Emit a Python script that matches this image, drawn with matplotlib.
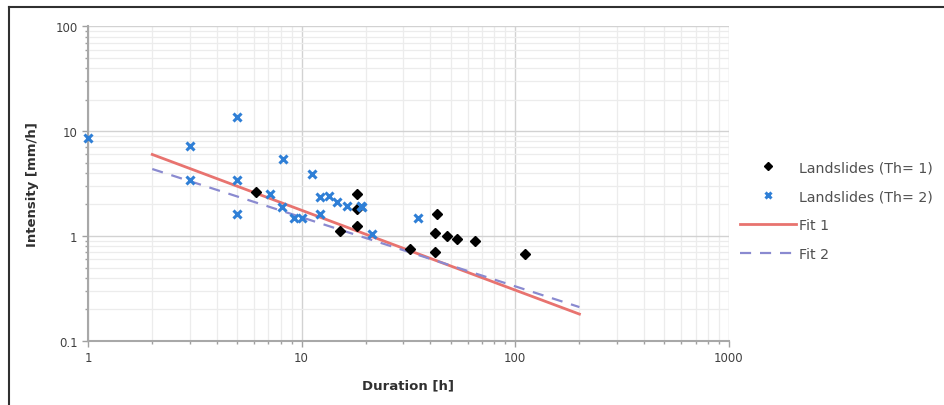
import matplotlib
matplotlib.use("Agg")
import matplotlib.pyplot as plt
from matplotlib.lines import Line2D
from matplotlib.ticker import LogLocator, FixedLocator, NullFormatter

# Landslides, threshold 1 (black diamonds)
th1_dur = [6.1, 15.1, 18.1, 18.1, 18.1, 43, 42.2, 47.9, 53.3, 65, 111, 32.2, 42]
th1_int = [2.65, 1.12, 2.52, 1.81, 1.25, 1.62, 1.08, 1.0, 0.94, 0.90, 0.67, 0.75, 0.71]

# Landslides, threshold 2 (blue crosses)
th2_dur = [1, 3, 5, 3, 5, 5, 8.2, 7.1, 8.1, 9.2, 10, 11.2, 12.2, 13.4, 12.2,
           14.6, 16.3, 19.1, 21.3, 35.2, 19]
th2_int = [8.7, 7.3, 13.6, 3.4, 3.4, 1.62, 5.4, 2.5, 1.88, 1.5, 1.5, 3.9, 2.34,
           2.42, 1.62, 2.1, 1.95, 1.88, 1.04, 1.5, 1.95]

# fit lines (end points, straight in log-log)
fit1_dur = [2, 200]
fit1_int = [6.0, 0.18]
fit2_dur = [2, 200]
fit2_int = [4.36, 0.21]

xticks = [1, 10, 100, 1000]
xlabels = ["1", "10", "100", "1000"]
yticks = [0.1, 1, 10, 100]
ylabels = ["0.1", "1", "10", "100"]

fig = plt.figure(figsize=(9.45, 4.06), dpi=100)
ax = fig.add_axes([0.0931, 0.158, 0.678, 0.7745])

ax.set_xscale("log")
ax.set_yscale("log")
ax.set_xlim(1, 1000)
ax.set_ylim(0.1, 100)

# grid
ax.xaxis.set_minor_locator(LogLocator(base=10, subs=range(2, 10)))
ax.yaxis.set_minor_locator(LogLocator(base=10, subs=range(2, 10)))
ax.xaxis.set_minor_formatter(NullFormatter())
ax.yaxis.set_minor_formatter(NullFormatter())
ax.grid(True, which="major", color="#d2d2d2", lw=1.0)
ax.grid(True, which="minor", color="#ececec", lw=0.9)
ax.set_axisbelow(True)

ax.plot(fit1_dur, fit1_int, color="#e8736f", lw=2.0, label="Fit 1", zorder=2)
ax.plot(fit2_dur, fit2_int, color="#8a8ad0", lw=1.6, ls=(0, (5, 4)), label="Fit 2", zorder=2)
ax.plot(th1_dur, th1_int, ls="none", marker="D", ms=5.5, color="black",
        label="Landslides (Th= 1)", zorder=3, clip_on=False)
ax.plot(th2_dur, th2_int, ls="none", marker="x", ms=6, mew=2.2, color="#2f7fd6",
        label="Landslides (Th= 2)", zorder=4, clip_on=False)

ax.xaxis.set_major_locator(FixedLocator(xticks))
ax.yaxis.set_major_locator(FixedLocator(yticks))
ax.set_xticklabels(xlabels)
ax.set_yticklabels(ylabels)
ax.tick_params(which="both", colors="#a0a0a0", labelcolor="#404040", labelsize=8.5, width=1)
ax.tick_params(which="major", length=4)
ax.tick_params(which="minor", length=2.5)

for s in ["top", "right"]:
    ax.spines[s].set_visible(False)
for s in ["left", "bottom"]:
    ax.spines[s].set_color("#a8a8a8")
    ax.spines[s].set_linewidth(1.5)

ax.set_xlabel("Duration [h]", fontsize=9.5, fontweight="bold", color="#303030", labelpad=10)
ax.set_ylabel("Intensity [mm/h]", fontsize=9.5, fontweight="bold", color="#303030", labelpad=12)

h, l = ax.get_legend_handles_labels()
order = [2, 3, 0, 1]
ax.legend([h[i] for i in order], [l[i] for i in order], loc="center left",
          bbox_to_anchor=(0.997, 0.414), frameon=False, fontsize=10.2, handlelength=4.0,
          labelspacing=1.05, handletextpad=0.2, labelcolor="#505050", markerscale=0.8)

# frame of the cropped picture (top and left)
fig.add_artist(Line2D([9 / 945, 1], [1 - 8 / 406, 1 - 8 / 406], color="#303030", lw=1.5,
                      transform=fig.transFigure))
fig.add_artist(Line2D([9 / 945, 9 / 945], [0, 1 - 8 / 406], color="#303030", lw=1.5,
                      transform=fig.transFigure))

fig.savefig("out.png", dpi=100)
